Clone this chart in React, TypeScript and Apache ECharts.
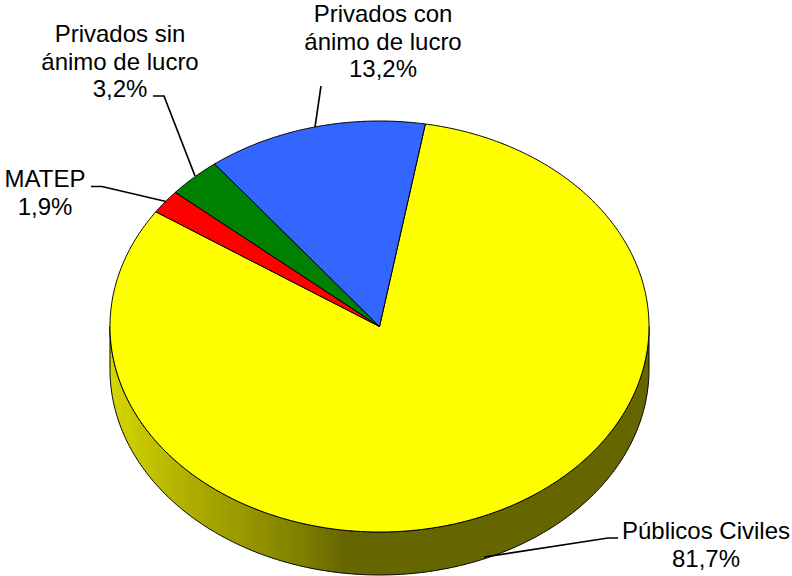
import React, { useEffect, useRef } from "react";
import * as echarts from "echarts";

const categories = ["Públicos Civiles", "MATEP", "Privados sin\nánimo de lucro", "Privados con\nánimo de lucro"];
const shares = [81.7, 1.9, 3.2, 13.2];
const shareLabels = ["81,7%", "1,9%", "3,2%", "13,2%"];
const sliceColors = ["#FFFF00", "#FF0000", "#008000", "#3366FF"];
const wallStops = [
  [110, "#d6d600"],
  [200, "#a9a900"],
  [300, "#808000"],
  [345, "#666600"],
  [649, "#666600"],
];
const labelCenters = [
  [706, 544.5],
  [45, 192.5],
  [120, 61],
  [383, 41],
];
const leaderLines = [
  [[618, 538], [608, 538], [484, 557]],
  [[91, 186.5], [102, 186.5], [166, 201.5]],
  [[153, 96], [164, 96], [195, 176]],
  [[321, 86], [315, 127]],
];

const CX = 379.5;
const CY = 326.5;
const RX = 269.5;
const RY = 205.5;
const DEPTH = 43;
const START_DEG = 9.8;
const FONT = "'Liberation Sans', Arial, sans-serif";

const pt = (deg: number, dy = 0) => {
  const a = (deg * Math.PI) / 180;
  return [CX + RX * Math.sin(a), CY - RY * Math.cos(a) + dy];
};
const arc = (from: number, to: number, dy = 0) => {
  const pts: number[][] = [];
  const n = Math.max(2, Math.ceil(Math.abs(to - from) * 2));
  for (let i = 0; i <= n; i++) pts.push(pt(from + ((to - from) * i) / n, dy));
  return pts;
};

export default function App() {
  const ref = useRef<HTMLDivElement>(null);
  useEffect(() => {
    const chart = echarts.init(ref.current!, null, { renderer: "svg" });
    const total = shares.reduce((a, b) => a + b, 0);
    const wallFill = new echarts.graphic.LinearGradient(
      110, 0, 649, 0,
      wallStops.map(([x, color]) => ({ offset: ((x as number) - 110) / 539, color: color as string })),
      true
    );
    chart.setOption({
      animation: false,
      backgroundColor: "#ffffff",
      series: [
        {
          type: "custom",
          coordinateSystem: "none",
          silent: true,
          data: shares.map((v) => [v]),
          renderItem: (params: any, api: any) => {
            const i = params.dataIndex;
            const before = shares.slice(0, i).reduce((a, b) => a + b, 0);
            const from = START_DEG + (before / total) * 360;
            const to = from + ((api.value(0) as number) / total) * 360;
            const children: any[] = [];
            const wFrom = Math.max(from, 90);
            const wTo = Math.min(to, 270);
            if (wTo > wFrom) {
              children.push({
                type: "polygon",
                shape: { points: [...arc(wFrom, wTo, 0), ...arc(wTo, wFrom, DEPTH)] },
                style: { fill: wallFill, stroke: "#000", lineWidth: 1 },
              });
            }
            children.push({
              type: "polygon",
              shape: { points: [[CX, CY], ...arc(from, to)] },
              style: { fill: sliceColors[i], stroke: "#000", lineWidth: 1, lineJoin: "round" },
            });
            return { type: "group", children };
          },
        },
      ],
      graphic: [
        ...leaderLines.map((points) => ({
          type: "polyline",
          z: 10,
          shape: { points },
          style: { fill: "none", stroke: "#000", lineWidth: 1.7 },
        })),
        ...categories.map((c, i) => ({
          type: "text",
          z: 11,
          x: labelCenters[i][0],
          y: labelCenters[i][1],
          style: {
            text: `${c}\n${shareLabels[i]}`,
            align: "center",
            verticalAlign: "middle",
            font: `24px ${FONT}`,
            lineHeight: 27.5,
            fill: "#000",
          },
        })),
      ],
    });
    return () => chart.dispose();
  }, []);
  return <div ref={ref} style={{ position: "fixed", left: 0, top: 0, width: 792, height: 576 }} />;
}
